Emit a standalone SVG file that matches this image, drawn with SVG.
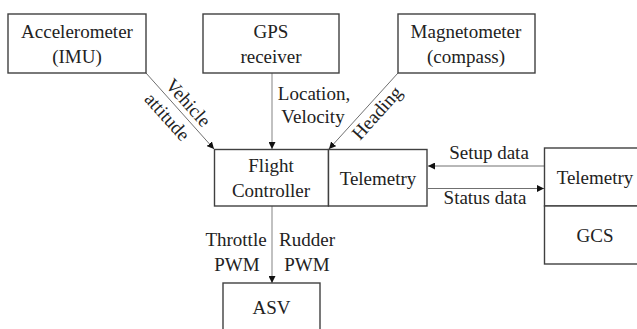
<svg xmlns="http://www.w3.org/2000/svg" width="637" height="329" viewBox="0 0 637 329">
<style>
.box{fill:#fff;stroke:#404040;stroke-width:1.4}
.t{font-family:'Liberation Serif','Times New Roman','DejaVu Serif','Noto Serif',serif;font-size:19px;fill:#222;text-anchor:middle}
.c{stroke:#a0a0a0;stroke-width:1.3;fill:none;marker-end:url(#ah)}
.cd{stroke:#707070;stroke-width:1;fill:none;marker-end:url(#ah)}
</style>
<defs>
<marker id="ah" viewBox="0 0 10 10" refX="10" refY="5" markerWidth="7" markerHeight="7" markerUnits="userSpaceOnUse" orient="auto">
<path d="M0,0 L10,5 L0,10 z" fill="#111"/>
</marker>
</defs>
<rect width="637" height="329" fill="#fff"/>
<g id="connectors" font-family="Liberation Serif, serif">
<line class="cd" x1="146" y1="73" x2="214" y2="149"/>
<line class="c" x1="272" y1="73" x2="272" y2="149"/>
<line class="cd" x1="398" y1="73" x2="329" y2="149"/>
<line class="cd" x1="544" y1="166" x2="428" y2="166"/>
<line class="cd" x1="428" y1="188.5" x2="544" y2="188.5"/>
<line class="c" x1="272" y1="206" x2="272" y2="283"/>
<text class="t" transform="translate(188,103) rotate(48)" y="6">Vehicle</text>
<text class="t" transform="translate(167,117) rotate(48)" y="6">attitude</text>
<text class="t" transform="translate(377,113) rotate(-48)" y="6">Heading</text>
<text class="t" x="314" y="100">Location,</text>
<text class="t" x="313" y="123">Velocity</text>
<text class="t" x="489" y="159">Setup data</text>
<text class="t" x="485" y="204">Status data</text>
<text class="t" x="236" y="246">Throttle</text>
<text class="t" x="237" y="271">PWM</text>
<text class="t" x="307" y="246">Rudder</text>
<text class="t" x="307" y="271">PWM</text>
</g>
<g id="accelerometer">
<rect class="box" x="8" y="14" width="138" height="59"/>
<text class="t" x="77" y="38">Accelerometer</text>
<text class="t" x="77" y="63">(IMU)</text>
</g>
<g id="gps">
<rect class="box" x="203" y="14" width="136" height="59"/>
<text class="t" x="271" y="38">GPS</text>
<text class="t" x="271" y="63">receiver</text>
</g>
<g id="magnetometer">
<rect class="box" x="398" y="14" width="137" height="59"/>
<text class="t" x="466" y="38">Magnetometer</text>
<text class="t" x="466" y="63">(compass)</text>
</g>
<g id="flight-controller">
<rect class="box" x="214.5" y="149.5" width="114" height="56.5"/>
<text class="t" x="271" y="172">Flight</text>
<text class="t" x="271" y="197">Controller</text>
</g>
<g id="telemetry-onboard">
<rect class="box" x="328.5" y="149.5" width="98.5" height="56.5"/>
<text class="t" x="378" y="185">Telemetry</text>
</g>
<g id="telemetry-gcs">
<rect class="box" x="544.5" y="148" width="100" height="58"/>
<text class="t" x="595" y="184">Telemetry</text>
</g>
<g id="gcs">
<rect class="box" x="544.5" y="206" width="100" height="58"/>
<text class="t" x="595" y="242">GCS</text>
</g>
<g id="asv">
<rect class="box" x="223" y="283" width="97" height="60"/>
<text class="t" x="271.5" y="314">ASV</text>
</g>
</svg>
